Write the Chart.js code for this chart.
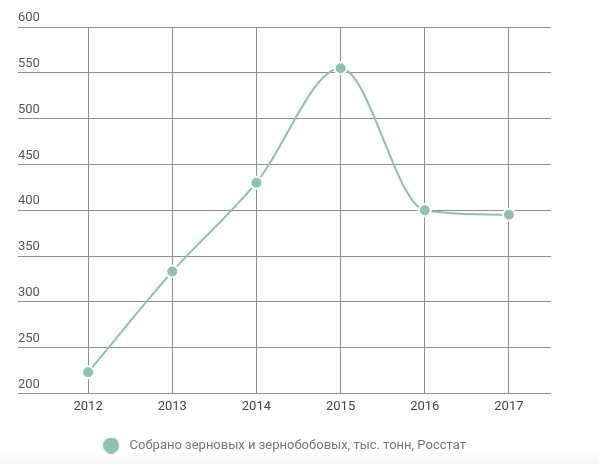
<!DOCTYPE html>
<html>
<head>
<meta charset="utf-8">
<script src="https://cdn.jsdelivr.net/npm/chart.js@4"></script>
<style>
  html, body { margin: 0; padding: 0; }
  body { background: linear-gradient(to bottom, #fff 0, #fff 452px, #f4f4f4 464px); }
  #wrap { width: 599px; height: 464px; }
</style>
</head>
<body>
<div id="wrap"><canvas id="grain"></canvas></div>
<script>
const years = ["2012", "2013", "2014", "2015", "2016", "2017"];
const harvest = [223, 333, 430, 555, 400, 395];
const seriesName = "Собрано зерновых и зернобобовых, тыс. тонн, Росстат";
const green = "rgb(138, 196, 170)";
const gridGray = "#8f8f8f";

// legend marker: circle drawn at the left of a slightly wider box
const marker = document.createElement("canvas");
marker.width = 20;
marker.height = 16;
(function () {
  const m = marker.getContext("2d");
  m.fillStyle = green;
  m.beginPath();
  m.arc(8, 8, 8, 0, Math.PI * 2);
  m.fill();
})();

Chart.defaults.font.family = "Roboto";
Chart.defaults.font.size = 13;

new Chart(document.getElementById("grain"), {
  type: "line",
  data: {
    labels: years,
    datasets: [{
      label: seriesName,
      data: harvest,
      borderColor: green,
      backgroundColor: green,
      borderWidth: 2,
      cubicInterpolationMode: "monotone",
      fill: false,
      pointRadius: 6,
      pointHoverRadius: 6,
      pointBackgroundColor: green,
      pointBorderColor: "#fff",
      pointBorderWidth: 2
    }]
  },
  options: {
    responsive: true,
    maintainAspectRatio: false,
    animation: false,
    layout: { padding: { left: 18, right: 48, top: 27, bottom: 2 } },
    plugins: {
      tooltip: { enabled: false },
      legend: {
        position: "bottom",
        labels: {
          usePointStyle: true,
          pointStyle: marker,
          pointStyleWidth: 20,
          boxHeight: 16,
          color: "#777",
          padding: 18,
          font: { size: 13 }
        }
      }
    },
    scales: {
      x: {
        offset: true,
        grid: { color: gridGray, offset: false, drawTicks: false },
        border: { display: false },
        ticks: { color: "#444", padding: 6, font: { size: 13 } }
      },
      y: {
        min: 200,
        max: 600,
        ticks: {
          stepSize: 50,
          color: "#555",
          crossAlign: "far",
          labelOffset: -9,
          font: { size: 13 }
        },
        grid: { color: gridGray, drawTicks: true, tickLength: 28 },
        border: { display: false },
        afterFit: function (scale) { scale.width = 28; }
      }
    }
  }
});
</script>
</body>
</html>
